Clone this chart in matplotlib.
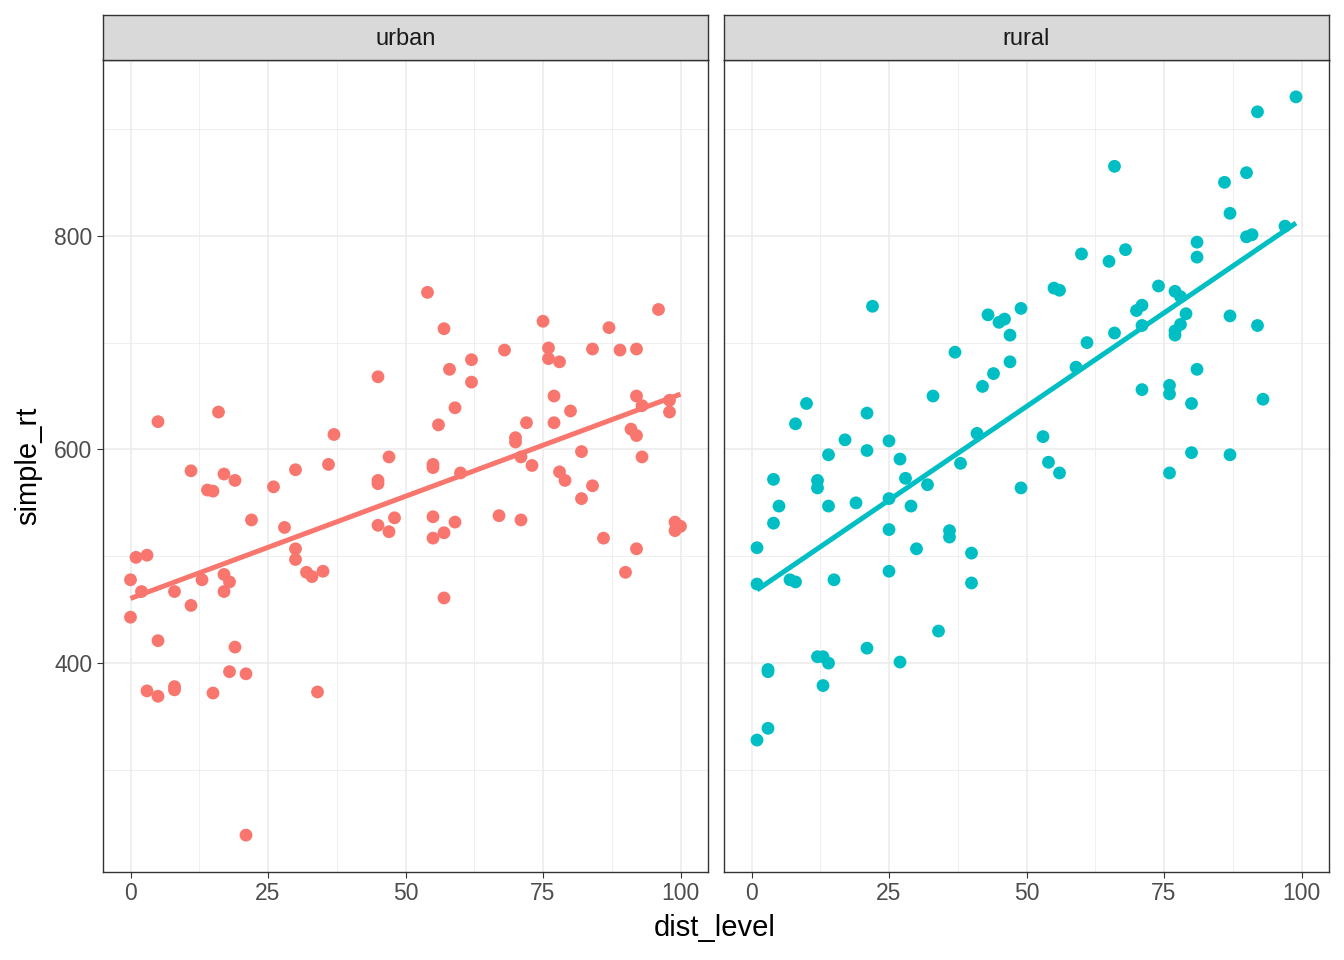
import matplotlib
matplotlib.use("Agg")
import matplotlib.pyplot as plt
import numpy as np

plt.rcParams['font.family'] = ['Liberation Sans', 'DejaVu Sans']

# urban panel
urban_x = [0, 0, 1, 2, 3, 3, 5, 5, 5, 8, 8, 8, 11, 11, 13, 14, 15, 15, 16, 17,
           17, 17, 18, 18, 19, 19, 21, 21, 22, 26, 28, 30, 30, 30, 32, 33, 34, 35, 36, 37,
           45, 45, 45, 45, 47, 47, 48, 54, 55, 55, 55, 55, 56, 57, 57, 57, 58, 59, 59, 60,
           62, 62, 67, 68, 70, 70, 71, 71, 72, 73, 75, 76, 76, 77, 77, 78, 78, 79, 80, 82,
           82, 84, 84, 86, 87, 89, 90, 92, 92, 92, 92, 91, 93, 93, 96, 98, 98, 99, 99, 100]
urban_y = [478, 443, 499, 467, 501, 374, 626, 421, 369, 467, 378, 375, 580, 454, 478, 562, 561, 372, 635, 577,
           483, 467, 476, 392, 571, 415, 390, 239, 534, 565, 527, 581, 507, 497, 485, 481, 373, 486, 586, 614,
           668, 571, 568, 529, 593, 523, 536, 747, 586, 583, 537, 517, 623, 713, 522, 461, 675, 639, 532, 578,
           684, 663, 538, 693, 611, 607, 593, 534, 625, 585, 720, 695, 685, 650, 625, 682, 579, 571, 636, 598,
           554, 694, 566, 517, 714, 693, 485, 694, 650, 613, 507, 619, 641, 593, 731, 646, 635, 532, 524, 528]

# rural panel
rural_x = [1, 1, 1, 3, 3, 3, 4, 4, 5, 7, 8, 8, 10, 12, 12, 13, 12, 14, 13, 14,
           14, 15, 17, 19, 21, 21, 21, 22, 25, 25, 25, 25, 27, 27, 28, 29, 30, 32, 33, 34,
           36, 36, 37, 38, 40, 40, 41, 42, 43, 44, 45, 46, 47, 47, 49, 49, 53, 54, 55, 56,
           56, 59, 60, 61, 65, 66, 66, 68, 70, 71, 71, 71, 74, 76, 76, 76, 77, 77, 77, 78,
           78, 79, 80, 80, 81, 81, 81, 86, 87, 87, 87, 90, 90, 91, 92, 92, 93, 97, 99]
rural_y = [508, 474, 328, 394, 392, 339, 572, 531, 547, 478, 476, 624, 643, 571, 564, 406, 406, 400, 379, 595,
           547, 478, 609, 550, 634, 599, 414, 734, 608, 554, 525, 486, 591, 401, 573, 547, 507, 567, 650, 430,
           524, 518, 691, 587, 503, 475, 615, 659, 726, 671, 719, 722, 707, 682, 732, 564, 612, 588, 751, 749,
           578, 677, 783, 700, 776, 865, 709, 787, 730, 735, 716, 656, 753, 660, 652, 578, 748, 711, 707, 743,
           717, 727, 643, 597, 794, 780, 675, 850, 821, 725, 595, 859, 799, 801, 916, 716, 647, 809, 930]

panels = [("urban", urban_x, urban_y, "#F8766D"), ("rural", rural_x, rural_y, "#00BFC4")]

fig = plt.figure(figsize=(13.44, 9.6), dpi=100)
lefts = [103 / 1344, 724 / 1344]
bottom = 1 - 872 / 960
height = (872 - 60) / 960
width = 605 / 1344
strip_h = 45 / 960

for i, (name, xs, ys, col) in enumerate(panels):
    ax = fig.add_axes([lefts[i], bottom, width, height])
    xs = np.array(xs)
    ys = np.array(ys)
    ax.set_xlim(-5, 105)
    ax.set_ylim(204.5, 964.5)
    ax.set_xticks([0, 25, 50, 75, 100])
    ax.set_xticks([12.5, 37.5, 62.5, 87.5], minor=True)
    ax.set_yticks([400, 600, 800])
    ax.set_yticks([300, 500, 700, 900], minor=True)
    ax.grid(which='major', color='#EBEBEB', linewidth=1.1)
    ax.grid(which='minor', color='#EBEBEB', linewidth=0.55)
    ax.set_axisbelow(True)
    ax.scatter(xs, ys, s=85, color=col, edgecolors='none', zorder=3)
    b, a = np.polyfit(xs, ys, 1)
    lx = np.array([xs.min(), xs.max()])
    ax.plot(lx, a + b * lx, color=col, linewidth=3.6, zorder=4, solid_capstyle='butt')
    for sp in ax.spines.values():
        sp.set_color('#333333')
        sp.set_linewidth(1.0)
    ax.tick_params(which='minor', length=0)
    ax.tick_params(which='major', length=4.5, color='#333333', labelsize=16.5,
                   labelcolor='#4D4D4D', width=0.8, pad=3)
    if i == 1:
        ax.tick_params(axis='y', which='major', length=0, labelleft=False)
    # facet strip
    sax = fig.add_axes([lefts[i], bottom + height, width, strip_h])
    sax.set_xticks([])
    sax.set_yticks([])
    sax.set_facecolor('#D9D9D9')
    for sp in sax.spines.values():
        sp.set_color('#333333')
        sp.set_linewidth(1.0)
    sax.text(0.5, 0.47, name, ha='center', va='center', fontsize=17, color='#1A1A1A',
             transform=sax.transAxes)

fig.text(715 / 1344, 1 - 928 / 960, "dist_level", ha='center', va='center', fontsize=21)
fig.text(28 / 1344, 1 - 466 / 960, "simple_rt", ha='center', va='center', fontsize=21,
         rotation=90)

fig.savefig("out.png", dpi=100, facecolor='white')
